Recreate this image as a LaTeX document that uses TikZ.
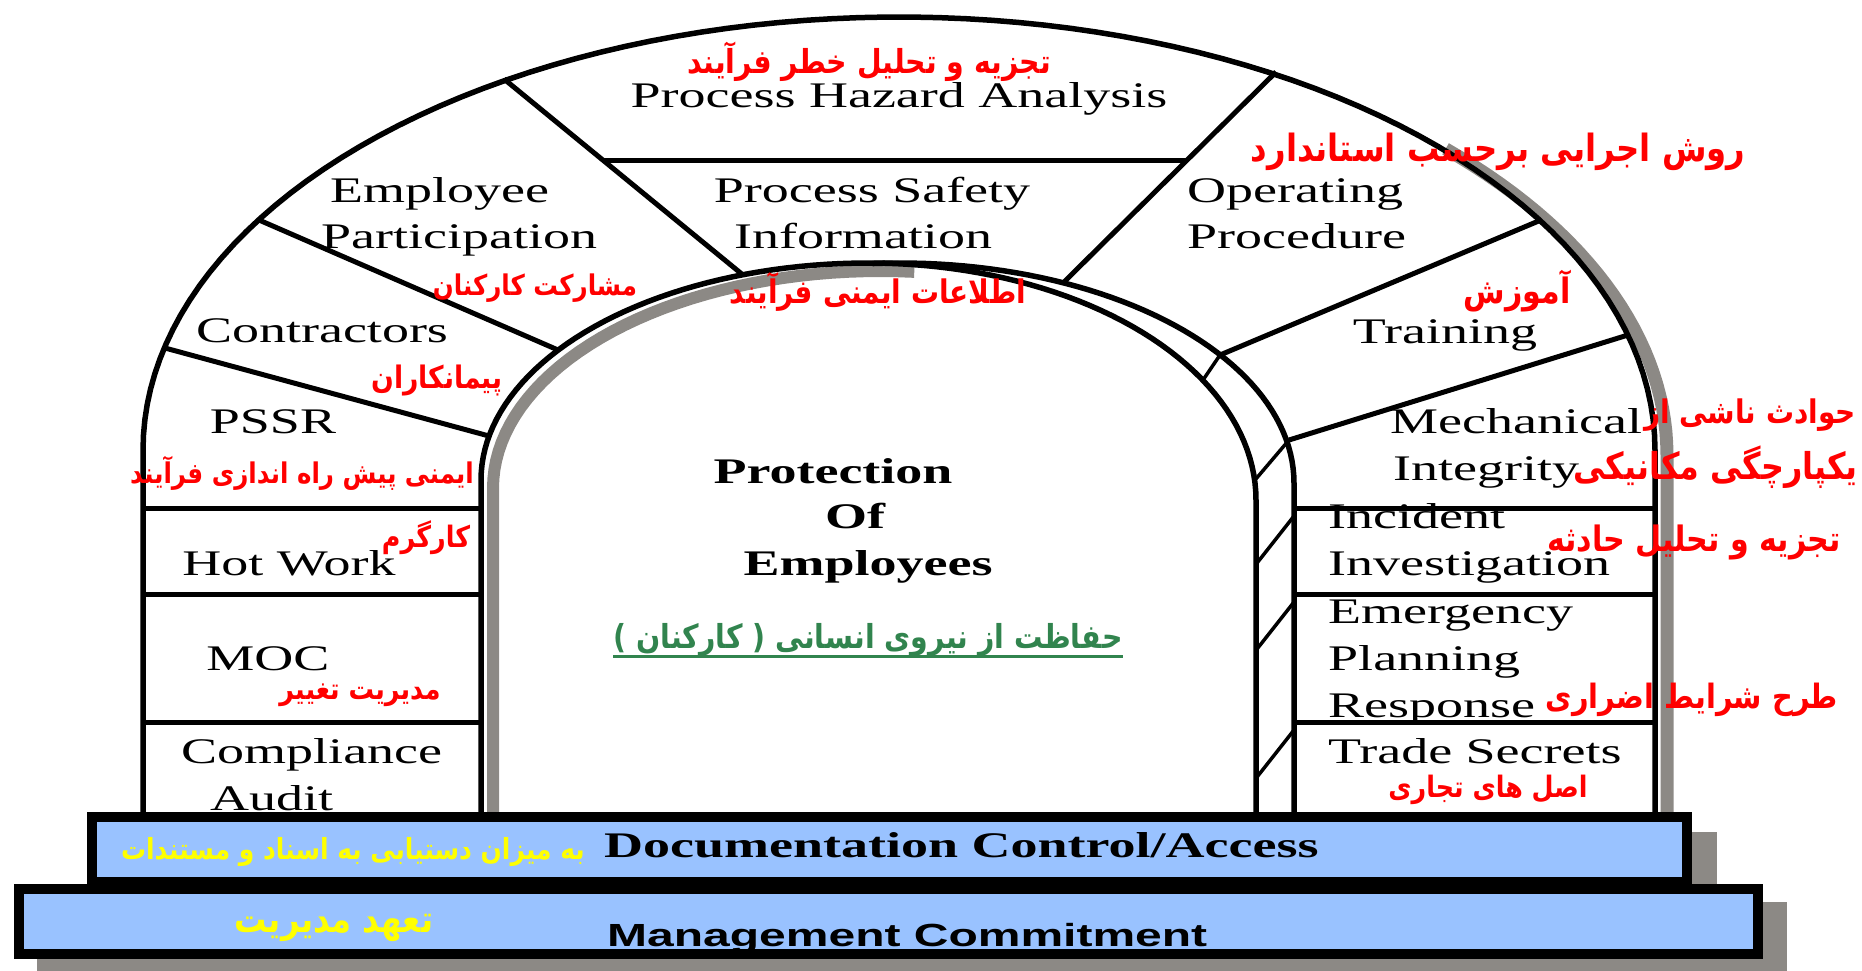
\documentclass[tikz,border=0pt]{standalone}
\usepackage{fontspec}
\usepackage{tikz}
\newfontfamily\enfont[FakeStretch=1.5]{Liberation Serif}
\newfontfamily\mcfont{Liberation Sans}
\newfontfamily\fafont[Script=Arabic, FakeStretch=0.86]{DejaVu Sans}
\TeXXeTstate=1
\newcommand{\fatext}[1]{\beginR#1\endR}
\definecolor{barblue}{RGB}{153,194,255}
\definecolor{shadowgray}{RGB}{140,137,133}
\definecolor{fagreen}{RGB}{49,132,78}
\definecolor{fayellow}{RGB}{255,255,0}
\tikzset{
  archline/.style={line width=5.5pt, line join=round},
  divline/.style={line width=5pt},
  tickline/.style={line width=3.5pt},
  shadowline/.style={draw=shadowgray, line width=13pt},
  barbox/.style={line width=10pt, fill=barblue},
  entxt/.style={inner sep=0pt, font=\enfont\fontsize{36}{46}\selectfont},
  enbold/.style={inner sep=0pt, font=\enfont\bfseries\fontsize{36}{46}\selectfont},
  redtxt/.style={inner sep=0pt, text=red, font=\fafont\bfseries\fontsize{#1}{#1}\selectfont},
  redtxt/.default=33,
  greentxt/.style={inner sep=0pt, text=fagreen, font=\fafont\bfseries\fontsize{33}{36}\selectfont},
  yellowtxt/.style={inner sep=0pt, text=fayellow, font=\fafont\bfseries\fontsize{#1}{#1}\selectfont},
}

\begin{document}
\begin{tikzpicture}[x=1pt, y=-1pt]
\useasboundingbox (0,0) rectangle (1862,970);

% shadows
\fill[shadowgray] (37,902) rectangle (1787,975);
\fill[shadowgray] (110,832) rectangle (1717,888);
\draw[shadowline] plot[domain=315:360, samples=30, variable=\a] ({911+756*cos(\a)},{455+433*sin(\a)}) -- (1667,817);
\draw[shadowline, line width=12pt] (493,817) -- plot[domain=180:275, samples=40, variable=\a] ({880.5+387.5*cos(\a)},{488+217*sin(\a)});

% base bars
\draw[barbox] (19,889) rectangle (1758,954);
\draw[barbox] (92,817) rectangle (1687,882);

% arch
\draw[archline] (143,817) -- plot[domain=180:360, samples=90, variable=\a] ({899+756*cos(\a)},{450+433*sin(\a)}) -- (1655,817);
\draw[archline] (481,817) -- plot[domain=180:270, samples=45, variable=\a] ({868.5+387.5*cos(\a)},{480+217*sin(\a)})
  -- plot[domain=270:360, samples=45, variable=\a] ({868.5+387.5*cos(\a)},{500+237*sin(\a)}) -- (1256,817);
\draw[archline] plot[domain=266:360, samples=50, variable=\a] ({900+394*cos(\a)},{483+220*sin(\a)}) -- (1294,817);

% dividers
\draw[divline] (504,79) -- (743,275);
\draw[divline] (1276,72) -- (1063,283);
\draw[divline] (604,160) -- (1188,160);
\draw[divline] (259,220) -- (558,350);
\draw[divline] (165,348) -- (489,436);
\draw[divline] (1541,220) -- (1220,355);
\draw[tickline] (1220,355) -- (1203,380);
\draw[divline] (1628,335) -- (1289,440);
\draw[tickline] (1289,440) -- (1255,480);
\foreach \y in {508,594,722} {
  \draw[divline] (143,\y) -- (481,\y);
  \draw[divline] (1294,\y) -- (1655,\y);
  \draw[tickline] (1294,\y+8) -- (1257,\y+55);
}

% english labels
\path (899,107) node[entxt, anchor=base] (pha) {Process Hazard Analysis};
\path (330,202) node[entxt, anchor=base west] (emp) {Employee};
\path (321,248) node[entxt, anchor=base west] (part) {Participation};
\path (872,202) node[entxt, anchor=base] (psi) {Process Safety};
\path (863,248) node[entxt, anchor=base] (info) {Information};
\path (1187,202) node[entxt, anchor=base west] (oper) {Operating};
\path (1187,248) node[entxt, anchor=base west] (proc) {Procedure};
\path (322,342) node[entxt, anchor=base] (contr) {Contractors};
\path (1445,343) node[entxt, anchor=base] (train) {Training};
\path (273,433) node[entxt, anchor=base] (pssr) {PSSR};
\path (1390,433) node[entxt, anchor=base west] (mech) {Mechanical};
\path (1393,480) node[entxt, anchor=base west] (integ) {Integrity};
\path (289,575) node[entxt, anchor=base] (hot) {Hot Work};
\path (1328,528) node[entxt, anchor=base west] (incid) {Incident};
\path (1328,575) node[entxt, anchor=base west] (invest) {Investigation};
\path (268,670) node[entxt, anchor=base] (moc) {MOC};
\path (1328,623) node[entxt, anchor=base west] (emerg) {Emergency};
\path (1328,670) node[entxt, anchor=base west] (plan) {Planning};
\path (1328,717) node[entxt, anchor=base west] (resp) {Response};
\path (181,763) node[entxt, anchor=base west] (compl) {Compliance};
\path (210,810) node[entxt, anchor=base west] (audit) {Audit};
\path (1328,763) node[entxt, anchor=base west] (trade) {Trade Secrets};
\path (833,483) node[enbold, anchor=base] (prot) {Protection};
\path (855,528) node[enbold, anchor=base] (of) {Of};
\path (868,575) node[enbold, anchor=base] (emps) {Employees};
\path (604,857) node[enbold, anchor=base west] (doc) {Documentation Control/Access};
\path (607,946) node[inner sep=0pt, anchor=base west, font=\mcfont\bfseries\fontsize{32}{36}\selectfont] (mgmt) {\scalebox{1.5}[1]{Management Commitment}};

% persian labels
\path (869,62) node[redtxt=33] (phafa) {\fatext{تجزیه و تحلیل خطر فرآیند}};
\path (1498,152) node[redtxt=37.5] (operfa) {\fatext{روش اجرایی برحسب استاندارد}};
\path (535,288) node[redtxt=28.5] (empfa) {\fatext{مشارکت کارکنان}};
\path (878,292) node[redtxt=32.5] (psifa) {\fatext{اطلاعات ایمنی فرآیند}};
\path (1517,291) node[redtxt=35] (trainfa) {\fatext{آموزش}};
\path (437,380) node[redtxt=31] (contrfa) {\fatext{پیمانکاران}};
\path (1856,415) node[redtxt=32.5, anchor=east] (mechfa) {\fatext{حوادث ناشی از}};
\path (1858,467) node[redtxt=37, anchor=east] (integfa) {\fatext{یکپارچگی مکانیکی}};
\path (302,473) node[redtxt=28.5] (pssrfa) {\fatext{ایمنی پیش راه اندازی فرآیند}};
\path (426,538) node[redtxt=29.5] (hotfa) {\fatext{کارگرم}};
\path (1694,542) node[redtxt=35] (incidfa) {\fatext{تجزیه و تحلیل حادثه}};
\path (360,695) node[redtxt=29.5] (mocfa) {\fatext{مدیریت تغییر}};
\path (1692,700) node[redtxt=33.5] (respfa) {\fatext{طرح شرایط اضراری}};
\path (1488,790) node[redtxt=29.5] (tradefa) {\fatext{اصل های تجاری}};
\path (868,640) node[greentxt] (protfa) {\fatext{حفاظت از نیروی انسانی ( کارکنان )}};
\draw[fagreen, line width=3pt] (protfa.south west) -- (protfa.south east);
\path (353,852) node[yellowtxt=29] (docfa) {\fatext{به میزان دستیابی به اسناد و مستندات}};
\path (334,928) node[yellowtxt=37.5] (mgmtfa) {\fatext{تعهد مدیریت}};
\end{tikzpicture}
\end{document}
